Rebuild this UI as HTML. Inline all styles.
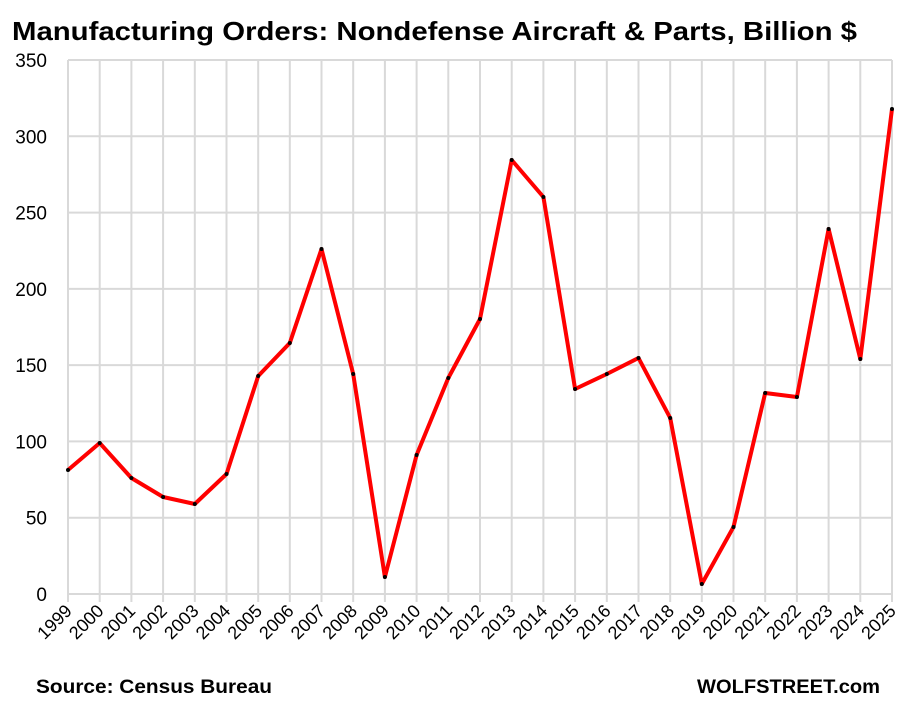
<!DOCTYPE html>
<html><head><meta charset="utf-8"><style>body{margin:0;background:#fff}svg{display:block}</style></head><body>
<svg width="909" height="705" xmlns="http://www.w3.org/2000/svg" font-family="Liberation Sans, sans-serif">
<rect width="909" height="705" fill="#fff"/>
<text x="12" y="40" font-size="26" font-weight="bold" textLength="845" lengthAdjust="spacingAndGlyphs">Manufacturing Orders: Nondefense Aircraft &amp; Parts, Billion $</text>
<g stroke="#d9d9d9" stroke-width="2">
<line x1="68" x2="892" y1="594" y2="594"/>
<line x1="68" x2="892" y1="517.7" y2="517.7"/>
<line x1="68" x2="892" y1="441.4" y2="441.4"/>
<line x1="68" x2="892" y1="365.1" y2="365.1"/>
<line x1="68" x2="892" y1="288.9" y2="288.9"/>
<line x1="68" x2="892" y1="212.6" y2="212.6"/>
<line x1="68" x2="892" y1="136.3" y2="136.3"/>
<line x1="68" x2="892" y1="60" y2="60"/>
<line x1="68" x2="68" y1="60" y2="602"/>
<line x1="99.7" x2="99.7" y1="60" y2="602"/>
<line x1="131.4" x2="131.4" y1="60" y2="602"/>
<line x1="163.1" x2="163.1" y1="60" y2="602"/>
<line x1="194.8" x2="194.8" y1="60" y2="602"/>
<line x1="226.5" x2="226.5" y1="60" y2="602"/>
<line x1="258.2" x2="258.2" y1="60" y2="602"/>
<line x1="289.8" x2="289.8" y1="60" y2="602"/>
<line x1="321.5" x2="321.5" y1="60" y2="602"/>
<line x1="353.2" x2="353.2" y1="60" y2="602"/>
<line x1="384.9" x2="384.9" y1="60" y2="602"/>
<line x1="416.6" x2="416.6" y1="60" y2="602"/>
<line x1="448.3" x2="448.3" y1="60" y2="602"/>
<line x1="480" x2="480" y1="60" y2="602"/>
<line x1="511.7" x2="511.7" y1="60" y2="602"/>
<line x1="543.4" x2="543.4" y1="60" y2="602"/>
<line x1="575.1" x2="575.1" y1="60" y2="602"/>
<line x1="606.8" x2="606.8" y1="60" y2="602"/>
<line x1="638.5" x2="638.5" y1="60" y2="602"/>
<line x1="670.2" x2="670.2" y1="60" y2="602"/>
<line x1="701.8" x2="701.8" y1="60" y2="602"/>
<line x1="733.5" x2="733.5" y1="60" y2="602"/>
<line x1="765.2" x2="765.2" y1="60" y2="602"/>
<line x1="796.9" x2="796.9" y1="60" y2="602"/>
<line x1="828.6" x2="828.6" y1="60" y2="602"/>
<line x1="860.3" x2="860.3" y1="60" y2="602"/>
<line x1="892" x2="892" y1="60" y2="602"/>
</g>
<g font-size="19" text-anchor="end">
<text x="47" y="601">0</text>
<text x="47" y="524.7">50</text>
<text x="47" y="448.4">100</text>
<text x="47" y="372.1">150</text>
<text x="47" y="295.9">200</text>
<text x="47" y="219.6">250</text>
<text x="47" y="143.3">300</text>
<text x="47" y="67">350</text>
</g>
<g font-size="18" text-anchor="end">
<text transform="translate(73,612) rotate(-45)">1999</text>
<text transform="translate(104.7,612) rotate(-45)">2000</text>
<text transform="translate(136.4,612) rotate(-45)">2001</text>
<text transform="translate(168.1,612) rotate(-45)">2002</text>
<text transform="translate(199.8,612) rotate(-45)">2003</text>
<text transform="translate(231.5,612) rotate(-45)">2004</text>
<text transform="translate(263.2,612) rotate(-45)">2005</text>
<text transform="translate(294.8,612) rotate(-45)">2006</text>
<text transform="translate(326.5,612) rotate(-45)">2007</text>
<text transform="translate(358.2,612) rotate(-45)">2008</text>
<text transform="translate(389.9,612) rotate(-45)">2009</text>
<text transform="translate(421.6,612) rotate(-45)">2010</text>
<text transform="translate(453.3,612) rotate(-45)">2011</text>
<text transform="translate(485,612) rotate(-45)">2012</text>
<text transform="translate(516.7,612) rotate(-45)">2013</text>
<text transform="translate(548.4,612) rotate(-45)">2014</text>
<text transform="translate(580.1,612) rotate(-45)">2015</text>
<text transform="translate(611.8,612) rotate(-45)">2016</text>
<text transform="translate(643.5,612) rotate(-45)">2017</text>
<text transform="translate(675.2,612) rotate(-45)">2018</text>
<text transform="translate(706.8,612) rotate(-45)">2019</text>
<text transform="translate(738.5,612) rotate(-45)">2020</text>
<text transform="translate(770.2,612) rotate(-45)">2021</text>
<text transform="translate(801.9,612) rotate(-45)">2022</text>
<text transform="translate(833.6,612) rotate(-45)">2023</text>
<text transform="translate(865.3,612) rotate(-45)">2024</text>
<text transform="translate(897,612) rotate(-45)">2025</text>
</g>
<polyline fill="none" stroke="#ff0000" stroke-width="4" stroke-linejoin="round" points="68,470 99.7,443 131.4,478 163.1,497 194.8,504 226.5,474 258.2,376 289.8,343 321.5,249 353.2,374 384.9,577 416.6,455 448.3,378 480,319 511.7,160 543.4,197 575.1,389 606.8,374 638.5,358 670.2,418 701.8,584 733.5,527 765.2,393 796.9,397 828.6,229 860.3,359 892,109"/>
<g fill="#000">
<circle cx="68" cy="470" r="2"/><circle cx="99.7" cy="443" r="2"/><circle cx="131.4" cy="478" r="2"/><circle cx="163.1" cy="497" r="2"/><circle cx="194.8" cy="504" r="2"/><circle cx="226.5" cy="474" r="2"/><circle cx="258.2" cy="376" r="2"/><circle cx="289.8" cy="343" r="2"/><circle cx="321.5" cy="249" r="2"/><circle cx="353.2" cy="374" r="2"/><circle cx="384.9" cy="577" r="2"/><circle cx="416.6" cy="455" r="2"/><circle cx="448.3" cy="378" r="2"/><circle cx="480" cy="319" r="2"/><circle cx="511.7" cy="160" r="2"/><circle cx="543.4" cy="197" r="2"/><circle cx="575.1" cy="389" r="2"/><circle cx="606.8" cy="374" r="2"/><circle cx="638.5" cy="358" r="2"/><circle cx="670.2" cy="418" r="2"/><circle cx="701.8" cy="584" r="2"/><circle cx="733.5" cy="527" r="2"/><circle cx="765.2" cy="393" r="2"/><circle cx="796.9" cy="397" r="2"/><circle cx="828.6" cy="229" r="2"/><circle cx="860.3" cy="359" r="2"/><circle cx="892" cy="109" r="2"/>
</g>
<text x="36" y="693" font-size="19" font-weight="bold" textLength="236" lengthAdjust="spacingAndGlyphs">Source: Census Bureau</text>
<text x="697" y="693" font-size="19" font-weight="bold" textLength="183" lengthAdjust="spacingAndGlyphs">WOLFSTREET.com</text>
</svg>
</body></html>
